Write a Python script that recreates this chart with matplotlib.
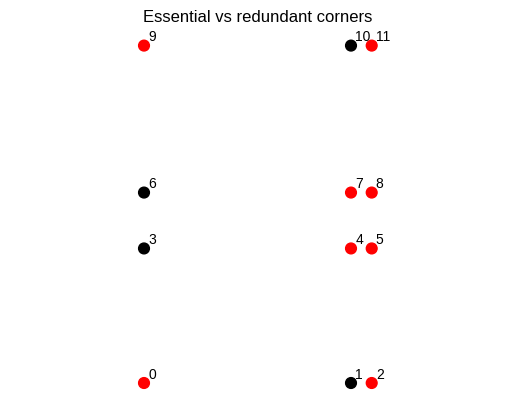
import numpy as np
from matplotlib import pyplot as plt

plt.rcParams['font.family'] = ['Liberation Sans', 'DejaVu Sans']

# corner coordinates, index = label
xs = [0, 10, 11, 0, 10, 11, 0, 10, 11, 0, 10, 11]
ys = [0, 0, 0, 6.5, 6.5, 6.5, 9.2, 9.2, 9.2, 16.3, 16.3, 16.3]
essential = [1, 0, 1, 0, 1, 1, 0, 1, 1, 1, 0, 1]

colors = ['red' if e else 'black' for e in essential]

fig = plt.figure(figsize=(5.15, 4.09), dpi=100)
ax = fig.add_axes([0, 0, 1, 1])
ax.scatter(xs, ys, c=colors, s=60, zorder=3)
for i, (x, y) in enumerate(zip(xs, ys)):
    ax.annotate(str(i), (x, y), textcoords='offset points', xytext=(3, 3),
                fontsize=10)
ax.set_xlim(-144 / 20.7, (515 - 144) / 20.7)
ax.set_ylim((383 - 409) / 20.7, 383 / 20.7)
ax.axis('off')
fig.text(0.5, 1 - 22 / 409, 'Essential vs redundant corners', ha='center',
         va='baseline', fontsize=12)
fig.savefig('out.png', dpi=100)
